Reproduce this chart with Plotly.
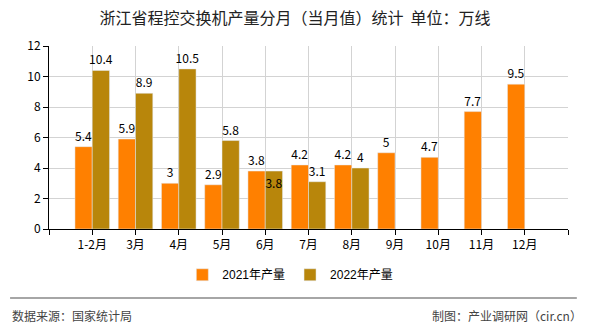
import plotly.graph_objects as go

categories = ["1-2月", "3月", "4月", "5月", "6月", "7月", "8月", "9月", "10月", "11月", "12月"]
values_2021 = [5.4, 5.9, 3, 2.9, 3.8, 4.2, 4.2, 5, 4.7, 7.7, 9.5]
values_2022 = [10.4, 8.9, 10.5, 5.8, 3.8, 3.1, 4, None, None, None, None]
y_ticks = [0, 2, 4, 6, 8, 10, 12]

FONT = "Noto Sans CJK SC"
xs = list(range(len(categories)))

def fmt(v):
    return "" if v is None else (str(int(v)) if float(v).is_integer() else str(v))

pos_2022 = ["inside" if i == 4 else "outside" for i in xs]

fig = go.Figure()
fig.add_trace(go.Bar(
    x=xs, y=values_2021, name="2021年产量", marker_color="#FF8000",
    text=[fmt(v) for v in values_2021], textposition="outside", constraintext="none",
    textfont=dict(size=12, color="#000", family=FONT), cliponaxis=False,
))
fig.add_trace(go.Bar(
    x=xs, y=values_2022, name="2022年产量", marker_color="#B8860B",
    text=[fmt(v) for v in values_2022], textposition=pos_2022, constraintext="none",
    insidetextanchor="end",
    textfont=dict(size=12, color="#000", family=FONT),
    insidetextfont=dict(size=12, color="#000", family=FONT),
    outsidetextfont=dict(size=12, color="#000", family=FONT),
    cliponaxis=False,
))

tickvals = [-1] + xs + [len(categories)]
ticktext = [""] + categories + [""]

fig.update_layout(
    width=590, height=330,
    margin=dict(l=49, r=22, t=46, b=101),
    paper_bgcolor="white", plot_bgcolor="white",
    barmode="group", bargap=0.2, bargroupgap=0,
    font=dict(family=FONT, size=12, color="#000"),
    title=dict(text="浙江省程控交换机产量分月（当月值）统计  单位：万线",
               x=0.5, xanchor="center", y=0.945, yanchor="middle",
               font=dict(size=16, color="#222", family=FONT)),
    xaxis=dict(range=[-1, len(categories)], tickmode="array", tickvals=tickvals, ticktext=ticktext,
               showgrid=True, gridcolor="#d3d3d3", gridwidth=1,
               showline=True, linecolor="#000", linewidth=1,
               ticks="outside", ticklen=5, tickcolor="#000",
               tickfont=dict(size=12, color="#000", family=FONT), zeroline=False),
    yaxis=dict(range=[0, 12], tickvals=y_ticks, showgrid=True, gridcolor="#d3d3d3",
               showline=True, linecolor="#000", linewidth=1,
               ticks="outside", ticklen=5, tickcolor="#000",
               tickfont=dict(size=12, color="#000", family=FONT), zeroline=False),
    legend=dict(orientation="h", x=0.465, xanchor="center", y=-0.25, yanchor="middle",
                font=dict(size=12, color="#000", family="Liberation Sans, " + FONT), itemwidth=30,
                tracegroupgap=0),
    showlegend=True,
)

fig.add_shape(type="line", xref="paper", yref="paper", x0=-0.075, x1=1.017, y0=-0.377, y1=-0.377,
              line=dict(color="#888", width=1.5))
fig.add_annotation(text="数据来源：国家统计局", xref="paper", yref="paper", x=-0.075, y=-0.475,
                   xanchor="left", yanchor="middle", showarrow=False,
                   font=dict(size=12, color="#444", family=FONT))
fig.add_annotation(text="制图：产业调研网（cir.cn）", xref="paper", yref="paper", x=1.03, y=-0.475,
                   xanchor="right", yanchor="middle", showarrow=False,
                   font=dict(size=12, color="#444", family=FONT))

fig.write_html("out.html")
